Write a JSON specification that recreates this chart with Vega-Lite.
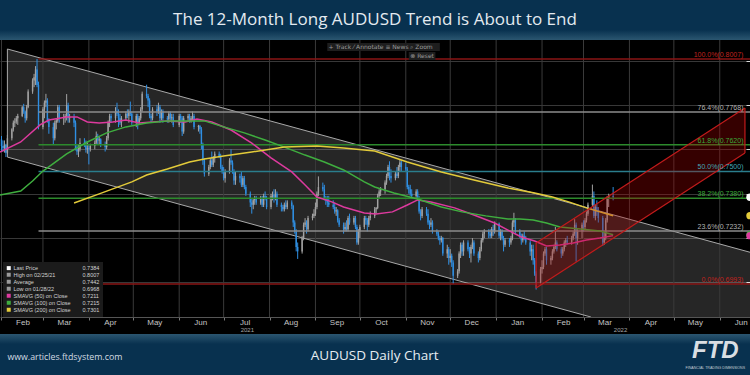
{
"$schema": "https://vega.github.io/schema/vega-lite/v6.json",
"width": 750, "height": 277,
"autosize": {"type": "none"},
"padding": {"left": 0, "right": 0, "top": 40, "bottom": 58},
"background": "#08314f",
"title": {"text": "The 12-Month Long AUDUSD Trend is About to End", "font": "Open Sans", "fontSize": 17, "fontWeight": 400, "color": "#e3eaf0", "anchor": "middle", "frame": "group", "offset": 1},
"config": {"view": {"fill": "#000000", "stroke": null}, "font": "Liberation Sans"},
"datasets": {
"ohlc": [
{"d":"2021-02-01","o":0.7645,"h":0.7660,"l":0.7590,"c":0.7615},
{"d":"2021-02-02","o":0.7615,"h":0.7640,"l":0.7590,"c":0.7605},
{"d":"2021-02-03","o":0.7605,"h":0.7640,"l":0.7585,"c":0.7620},
{"d":"2021-02-04","o":0.7620,"h":0.7625,"l":0.7565,"c":0.7585},
{"d":"2021-02-05","o":0.7585,"h":0.7665,"l":0.7580,"c":0.7650},
{"d":"2021-02-08","o":0.7650,"h":0.7695,"l":0.7640,"c":0.7690},
{"d":"2021-02-09","o":0.7690,"h":0.7730,"l":0.7680,"c":0.7720},
{"d":"2021-02-10","o":0.7720,"h":0.7740,"l":0.7700,"c":0.7725},
{"d":"2021-02-11","o":0.7725,"h":0.7750,"l":0.7715,"c":0.7740},
{"d":"2021-02-12","o":0.7740,"h":0.7760,"l":0.7710,"c":0.7750},
{"d":"2021-02-15","o":0.7750,"h":0.7795,"l":0.7745,"c":0.7790},
{"d":"2021-02-16","o":0.7790,"h":0.7805,"l":0.7760,"c":0.7770},
{"d":"2021-02-17","o":0.7770,"h":0.7775,"l":0.7720,"c":0.7740},
{"d":"2021-02-18","o":0.7740,"h":0.7800,"l":0.7730,"c":0.7790},
{"d":"2021-02-19","o":0.7790,"h":0.7870,"l":0.7785,"c":0.7860},
{"d":"2021-02-22","o":0.7860,"h":0.7920,"l":0.7850,"c":0.7910},
{"d":"2021-02-23","o":0.7910,"h":0.7940,"l":0.7880,"c":0.7925},
{"d":"2021-02-24","o":0.7925,"h":0.7975,"l":0.7890,"c":0.7960},
{"d":"2021-02-25","o":0.7960,"h":0.8007,"l":0.7880,"c":0.7890},
{"d":"2021-02-26","o":0.7890,"h":0.7905,"l":0.7690,"c":0.7700},
{"d":"2021-03-01","o":0.7700,"h":0.7790,"l":0.7690,"c":0.7780},
{"d":"2021-03-02","o":0.7780,"h":0.7820,"l":0.7740,"c":0.7810},
{"d":"2021-03-03","o":0.7810,"h":0.7850,"l":0.7790,"c":0.7820},
{"d":"2021-03-04","o":0.7820,"h":0.7830,"l":0.7720,"c":0.7730},
{"d":"2021-03-05","o":0.7730,"h":0.7740,"l":0.7670,"c":0.7700},
{"d":"2021-03-08","o":0.7700,"h":0.7720,"l":0.7620,"c":0.7650},
{"d":"2021-03-09","o":0.7650,"h":0.7730,"l":0.7640,"c":0.7720},
{"d":"2021-03-10","o":0.7720,"h":0.7740,"l":0.7690,"c":0.7730},
{"d":"2021-03-11","o":0.7730,"h":0.7800,"l":0.7720,"c":0.7790},
{"d":"2021-03-12","o":0.7790,"h":0.7800,"l":0.7720,"c":0.7740},
{"d":"2021-03-15","o":0.7740,"h":0.7760,"l":0.7710,"c":0.7745},
{"d":"2021-03-16","o":0.7745,"h":0.7760,"l":0.7720,"c":0.7750},
{"d":"2021-03-17","o":0.7750,"h":0.7849,"l":0.7730,"c":0.7800},
{"d":"2021-03-18","o":0.7800,"h":0.7810,"l":0.7720,"c":0.7740},
{"d":"2021-03-19","o":0.7740,"h":0.7760,"l":0.7720,"c":0.7745},
{"d":"2021-03-22","o":0.7745,"h":0.7760,"l":0.7700,"c":0.7720},
{"d":"2021-03-23","o":0.7720,"h":0.7730,"l":0.7595,"c":0.7600},
{"d":"2021-03-24","o":0.7600,"h":0.7620,"l":0.7575,"c":0.7590},
{"d":"2021-03-25","o":0.7590,"h":0.7620,"l":0.7565,"c":0.7600},
{"d":"2021-03-26","o":0.7600,"h":0.7650,"l":0.7590,"c":0.7630},
{"d":"2021-03-29","o":0.7630,"h":0.7650,"l":0.7610,"c":0.7625},
{"d":"2021-03-30","o":0.7625,"h":0.7640,"l":0.7585,"c":0.7600},
{"d":"2021-03-31","o":0.7600,"h":0.7630,"l":0.7580,"c":0.7605},
{"d":"2021-04-01","o":0.7605,"h":0.7620,"l":0.7532,"c":0.7600},
{"d":"2021-04-02","o":0.7600,"h":0.7625,"l":0.7590,"c":0.7615},
{"d":"2021-04-05","o":0.7615,"h":0.7640,"l":0.7600,"c":0.7630},
{"d":"2021-04-06","o":0.7630,"h":0.7680,"l":0.7620,"c":0.7660},
{"d":"2021-04-07","o":0.7660,"h":0.7670,"l":0.7620,"c":0.7640},
{"d":"2021-04-08","o":0.7640,"h":0.7660,"l":0.7620,"c":0.7645},
{"d":"2021-04-09","o":0.7645,"h":0.7650,"l":0.7610,"c":0.7620},
{"d":"2021-04-12","o":0.7620,"h":0.7635,"l":0.7590,"c":0.7610},
{"d":"2021-04-13","o":0.7610,"h":0.7660,"l":0.7600,"c":0.7650},
{"d":"2021-04-14","o":0.7650,"h":0.7730,"l":0.7640,"c":0.7720},
{"d":"2021-04-15","o":0.7720,"h":0.7760,"l":0.7700,"c":0.7750},
{"d":"2021-04-16","o":0.7750,"h":0.7760,"l":0.7720,"c":0.7740},
{"d":"2021-04-19","o":0.7740,"h":0.7790,"l":0.7720,"c":0.7770},
{"d":"2021-04-20","o":0.7770,"h":0.7810,"l":0.7750,"c":0.7760},
{"d":"2021-04-21","o":0.7760,"h":0.7780,"l":0.7700,"c":0.7740},
{"d":"2021-04-22","o":0.7740,"h":0.7760,"l":0.7710,"c":0.7720},
{"d":"2021-04-23","o":0.7720,"h":0.7750,"l":0.7700,"c":0.7740},
{"d":"2021-04-26","o":0.7740,"h":0.7770,"l":0.7730,"c":0.7760},
{"d":"2021-04-27","o":0.7760,"h":0.7780,"l":0.7740,"c":0.7750},
{"d":"2021-04-28","o":0.7750,"h":0.7780,"l":0.7720,"c":0.7770},
{"d":"2021-04-29","o":0.7770,"h":0.7815,"l":0.7750,"c":0.7760},
{"d":"2021-04-30","o":0.7760,"h":0.7770,"l":0.7710,"c":0.7720},
{"d":"2021-05-03","o":0.7720,"h":0.7760,"l":0.7700,"c":0.7750},
{"d":"2021-05-04","o":0.7750,"h":0.7760,"l":0.7690,"c":0.7720},
{"d":"2021-05-05","o":0.7720,"h":0.7750,"l":0.7710,"c":0.7740},
{"d":"2021-05-06","o":0.7740,"h":0.7790,"l":0.7730,"c":0.7780},
{"d":"2021-05-07","o":0.7780,"h":0.7860,"l":0.7770,"c":0.7850},
{"d":"2021-05-10","o":0.7850,"h":0.7891,"l":0.7830,"c":0.7840},
{"d":"2021-05-11","o":0.7840,"h":0.7850,"l":0.7790,"c":0.7820},
{"d":"2021-05-12","o":0.7820,"h":0.7830,"l":0.7740,"c":0.7750},
{"d":"2021-05-13","o":0.7750,"h":0.7760,"l":0.7720,"c":0.7740},
{"d":"2021-05-14","o":0.7740,"h":0.7790,"l":0.7730,"c":0.7780},
{"d":"2021-05-17","o":0.7780,"h":0.7800,"l":0.7750,"c":0.7770},
{"d":"2021-05-18","o":0.7770,"h":0.7810,"l":0.7760,"c":0.7790},
{"d":"2021-05-19","o":0.7790,"h":0.7800,"l":0.7720,"c":0.7740},
{"d":"2021-05-20","o":0.7740,"h":0.7780,"l":0.7730,"c":0.7770},
{"d":"2021-05-21","o":0.7770,"h":0.7780,"l":0.7720,"c":0.7740},
{"d":"2021-05-24","o":0.7740,"h":0.7750,"l":0.7720,"c":0.7735},
{"d":"2021-05-25","o":0.7735,"h":0.7770,"l":0.7720,"c":0.7760},
{"d":"2021-05-26","o":0.7760,"h":0.7770,"l":0.7730,"c":0.7740},
{"d":"2021-05-27","o":0.7740,"h":0.7760,"l":0.7720,"c":0.7745},
{"d":"2021-05-28","o":0.7745,"h":0.7760,"l":0.7700,"c":0.7710},
{"d":"2021-06-01","o":0.7710,"h":0.7760,"l":0.7700,"c":0.7750},
{"d":"2021-06-02","o":0.7750,"h":0.7760,"l":0.7720,"c":0.7740},
{"d":"2021-06-03","o":0.7740,"h":0.7750,"l":0.7660,"c":0.7680},
{"d":"2021-06-04","o":0.7680,"h":0.7750,"l":0.7670,"c":0.7740},
{"d":"2021-06-07","o":0.7740,"h":0.7760,"l":0.7730,"c":0.7750},
{"d":"2021-06-08","o":0.7750,"h":0.7760,"l":0.7720,"c":0.7730},
{"d":"2021-06-09","o":0.7730,"h":0.7750,"l":0.7720,"c":0.7740},
{"d":"2021-06-10","o":0.7740,"h":0.7770,"l":0.7730,"c":0.7750},
{"d":"2021-06-11","o":0.7750,"h":0.7760,"l":0.7690,"c":0.7700},
{"d":"2021-06-14","o":0.7700,"h":0.7710,"l":0.7680,"c":0.7705},
{"d":"2021-06-15","o":0.7705,"h":0.7710,"l":0.7670,"c":0.7690},
{"d":"2021-06-16","o":0.7690,"h":0.7700,"l":0.7600,"c":0.7620},
{"d":"2021-06-17","o":0.7620,"h":0.7630,"l":0.7530,"c":0.7550},
{"d":"2021-06-18","o":0.7550,"h":0.7560,"l":0.7477,"c":0.7490},
{"d":"2021-06-21","o":0.7490,"h":0.7530,"l":0.7480,"c":0.7520},
{"d":"2021-06-22","o":0.7520,"h":0.7560,"l":0.7510,"c":0.7550},
{"d":"2021-06-23","o":0.7550,"h":0.7590,"l":0.7520,"c":0.7530},
{"d":"2021-06-24","o":0.7530,"h":0.7570,"l":0.7520,"c":0.7560},
{"d":"2021-06-25","o":0.7560,"h":0.7590,"l":0.7540,"c":0.7580},
{"d":"2021-06-28","o":0.7580,"h":0.7590,"l":0.7560,"c":0.7570},
{"d":"2021-06-29","o":0.7570,"h":0.7580,"l":0.7510,"c":0.7520},
{"d":"2021-06-30","o":0.7520,"h":0.7530,"l":0.7490,"c":0.7500},
{"d":"2021-07-01","o":0.7500,"h":0.7520,"l":0.7460,"c":0.7470},
{"d":"2021-07-02","o":0.7470,"h":0.7510,"l":0.7450,"c":0.7500},
{"d":"2021-07-05","o":0.7500,"h":0.7560,"l":0.7490,"c":0.7550},
{"d":"2021-07-06","o":0.7550,"h":0.7600,"l":0.7530,"c":0.7540},
{"d":"2021-07-07","o":0.7540,"h":0.7550,"l":0.7490,"c":0.7500},
{"d":"2021-07-08","o":0.7500,"h":0.7510,"l":0.7440,"c":0.7460},
{"d":"2021-07-09","o":0.7460,"h":0.7500,"l":0.7440,"c":0.7480},
{"d":"2021-07-12","o":0.7480,"h":0.7490,"l":0.7450,"c":0.7470},
{"d":"2021-07-13","o":0.7470,"h":0.7500,"l":0.7430,"c":0.7440},
{"d":"2021-07-14","o":0.7440,"h":0.7480,"l":0.7430,"c":0.7470},
{"d":"2021-07-15","o":0.7470,"h":0.7480,"l":0.7420,"c":0.7430},
{"d":"2021-07-16","o":0.7430,"h":0.7440,"l":0.7390,"c":0.7400},
{"d":"2021-07-19","o":0.7400,"h":0.7410,"l":0.7340,"c":0.7360},
{"d":"2021-07-20","o":0.7360,"h":0.7380,"l":0.7310,"c":0.7350},
{"d":"2021-07-21","o":0.7350,"h":0.7380,"l":0.7330,"c":0.7370},
{"d":"2021-07-22","o":0.7370,"h":0.7390,"l":0.7350,"c":0.7380},
{"d":"2021-07-23","o":0.7380,"h":0.7390,"l":0.7350,"c":0.7360},
{"d":"2021-07-26","o":0.7360,"h":0.7390,"l":0.7350,"c":0.7380},
{"d":"2021-07-27","o":0.7380,"h":0.7390,"l":0.7340,"c":0.7350},
{"d":"2021-07-28","o":0.7350,"h":0.7400,"l":0.7340,"c":0.7390},
{"d":"2021-07-29","o":0.7390,"h":0.7410,"l":0.7370,"c":0.7380},
{"d":"2021-07-30","o":0.7380,"h":0.7390,"l":0.7330,"c":0.7340},
{"d":"2021-08-02","o":0.7340,"h":0.7400,"l":0.7330,"c":0.7390},
{"d":"2021-08-03","o":0.7390,"h":0.7410,"l":0.7370,"c":0.7395},
{"d":"2021-08-04","o":0.7395,"h":0.7420,"l":0.7360,"c":0.7380},
{"d":"2021-08-05","o":0.7380,"h":0.7420,"l":0.7370,"c":0.7400},
{"d":"2021-08-06","o":0.7400,"h":0.7410,"l":0.7340,"c":0.7350},
{"d":"2021-08-09","o":0.7350,"h":0.7360,"l":0.7320,"c":0.7340},
{"d":"2021-08-10","o":0.7340,"h":0.7350,"l":0.7320,"c":0.7330},
{"d":"2021-08-11","o":0.7330,"h":0.7360,"l":0.7320,"c":0.7350},
{"d":"2021-08-12","o":0.7350,"h":0.7370,"l":0.7330,"c":0.7340},
{"d":"2021-08-13","o":0.7340,"h":0.7370,"l":0.7330,"c":0.7360},
{"d":"2021-08-16","o":0.7360,"h":0.7370,"l":0.7330,"c":0.7345},
{"d":"2021-08-17","o":0.7345,"h":0.7350,"l":0.7250,"c":0.7270},
{"d":"2021-08-18","o":0.7270,"h":0.7280,"l":0.7220,"c":0.7230},
{"d":"2021-08-19","o":0.7230,"h":0.7240,"l":0.7140,"c":0.7160},
{"d":"2021-08-20","o":0.7160,"h":0.7180,"l":0.7106,"c":0.7140},
{"d":"2021-08-23","o":0.7140,"h":0.7210,"l":0.7130,"c":0.7200},
{"d":"2021-08-24","o":0.7200,"h":0.7270,"l":0.7190,"c":0.7260},
{"d":"2021-08-25","o":0.7260,"h":0.7290,"l":0.7250,"c":0.7270},
{"d":"2021-08-26","o":0.7270,"h":0.7280,"l":0.7220,"c":0.7240},
{"d":"2021-08-27","o":0.7240,"h":0.7300,"l":0.7230,"c":0.7290},
{"d":"2021-08-30","o":0.7290,"h":0.7310,"l":0.7280,"c":0.7300},
{"d":"2021-08-31","o":0.7300,"h":0.7330,"l":0.7290,"c":0.7310},
{"d":"2021-09-01","o":0.7310,"h":0.7360,"l":0.7300,"c":0.7340},
{"d":"2021-09-02","o":0.7340,"h":0.7410,"l":0.7330,"c":0.7400},
{"d":"2021-09-03","o":0.7400,"h":0.7478,"l":0.7390,"c":0.7430},
{"d":"2021-09-06","o":0.7430,"h":0.7450,"l":0.7410,"c":0.7420},
{"d":"2021-09-07","o":0.7420,"h":0.7440,"l":0.7370,"c":0.7380},
{"d":"2021-09-08","o":0.7380,"h":0.7390,"l":0.7350,"c":0.7370},
{"d":"2021-09-09","o":0.7370,"h":0.7390,"l":0.7340,"c":0.7360},
{"d":"2021-09-10","o":0.7360,"h":0.7390,"l":0.7340,"c":0.7350},
{"d":"2021-09-13","o":0.7350,"h":0.7370,"l":0.7330,"c":0.7340},
{"d":"2021-09-14","o":0.7340,"h":0.7360,"l":0.7310,"c":0.7320},
{"d":"2021-09-15","o":0.7320,"h":0.7340,"l":0.7300,"c":0.7325},
{"d":"2021-09-16","o":0.7325,"h":0.7330,"l":0.7270,"c":0.7280},
{"d":"2021-09-17","o":0.7280,"h":0.7290,"l":0.7250,"c":0.7260},
{"d":"2021-09-20","o":0.7260,"h":0.7270,"l":0.7220,"c":0.7240},
{"d":"2021-09-21","o":0.7240,"h":0.7270,"l":0.7230,"c":0.7250},
{"d":"2021-09-22","o":0.7250,"h":0.7280,"l":0.7230,"c":0.7240},
{"d":"2021-09-23","o":0.7240,"h":0.7300,"l":0.7230,"c":0.7290},
{"d":"2021-09-24","o":0.7290,"h":0.7310,"l":0.7260,"c":0.7270},
{"d":"2021-09-27","o":0.7270,"h":0.7300,"l":0.7260,"c":0.7290},
{"d":"2021-09-28","o":0.7290,"h":0.7300,"l":0.7240,"c":0.7250},
{"d":"2021-09-29","o":0.7250,"h":0.7260,"l":0.7170,"c":0.7180},
{"d":"2021-09-30","o":0.7180,"h":0.7240,"l":0.7170,"c":0.7230},
{"d":"2021-10-01","o":0.7230,"h":0.7260,"l":0.7200,"c":0.7250},
{"d":"2021-10-04","o":0.7250,"h":0.7300,"l":0.7240,"c":0.7290},
{"d":"2021-10-05","o":0.7290,"h":0.7300,"l":0.7260,"c":0.7280},
{"d":"2021-10-06","o":0.7280,"h":0.7290,"l":0.7230,"c":0.7260},
{"d":"2021-10-07","o":0.7260,"h":0.7300,"l":0.7250,"c":0.7290},
{"d":"2021-10-08","o":0.7290,"h":0.7320,"l":0.7280,"c":0.7300},
{"d":"2021-10-11","o":0.7300,"h":0.7340,"l":0.7290,"c":0.7330},
{"d":"2021-10-12","o":0.7330,"h":0.7340,"l":0.7310,"c":0.7335},
{"d":"2021-10-13","o":0.7335,"h":0.7400,"l":0.7330,"c":0.7390},
{"d":"2021-10-14","o":0.7390,"h":0.7420,"l":0.7380,"c":0.7410},
{"d":"2021-10-15","o":0.7410,"h":0.7430,"l":0.7390,"c":0.7420},
{"d":"2021-10-18","o":0.7420,"h":0.7460,"l":0.7400,"c":0.7450},
{"d":"2021-10-19","o":0.7450,"h":0.7490,"l":0.7440,"c":0.7480},
{"d":"2021-10-20","o":0.7480,"h":0.7530,"l":0.7470,"c":0.7520},
{"d":"2021-10-21","o":0.7520,"h":0.7546,"l":0.7460,"c":0.7480},
{"d":"2021-10-22","o":0.7480,"h":0.7510,"l":0.7450,"c":0.7470},
{"d":"2021-10-25","o":0.7470,"h":0.7500,"l":0.7460,"c":0.7490},
{"d":"2021-10-26","o":0.7490,"h":0.7520,"l":0.7470,"c":0.7480},
{"d":"2021-10-27","o":0.7480,"h":0.7530,"l":0.7470,"c":0.7520},
{"d":"2021-10-28","o":0.7520,"h":0.7556,"l":0.7500,"c":0.7540},
{"d":"2021-10-29","o":0.7540,"h":0.7550,"l":0.7500,"c":0.7520},
{"d":"2021-11-01","o":0.7520,"h":0.7540,"l":0.7500,"c":0.7510},
{"d":"2021-11-02","o":0.7510,"h":0.7520,"l":0.7420,"c":0.7430},
{"d":"2021-11-03","o":0.7430,"h":0.7440,"l":0.7400,"c":0.7420},
{"d":"2021-11-04","o":0.7420,"h":0.7440,"l":0.7390,"c":0.7400},
{"d":"2021-11-05","o":0.7400,"h":0.7420,"l":0.7380,"c":0.7390},
{"d":"2021-11-08","o":0.7390,"h":0.7420,"l":0.7380,"c":0.7410},
{"d":"2021-11-09","o":0.7410,"h":0.7420,"l":0.7370,"c":0.7380},
{"d":"2021-11-10","o":0.7380,"h":0.7390,"l":0.7310,"c":0.7320},
{"d":"2021-11-11","o":0.7320,"h":0.7330,"l":0.7280,"c":0.7300},
{"d":"2021-11-12","o":0.7300,"h":0.7340,"l":0.7290,"c":0.7330},
{"d":"2021-11-15","o":0.7330,"h":0.7340,"l":0.7300,"c":0.7310},
{"d":"2021-11-16","o":0.7310,"h":0.7330,"l":0.7260,"c":0.7270},
{"d":"2021-11-17","o":0.7270,"h":0.7280,"l":0.7240,"c":0.7260},
{"d":"2021-11-18","o":0.7260,"h":0.7290,"l":0.7250,"c":0.7270},
{"d":"2021-11-19","o":0.7270,"h":0.7280,"l":0.7220,"c":0.7230},
{"d":"2021-11-22","o":0.7230,"h":0.7240,"l":0.7210,"c":0.7220},
{"d":"2021-11-23","o":0.7220,"h":0.7230,"l":0.7190,"c":0.7200},
{"d":"2021-11-24","o":0.7200,"h":0.7210,"l":0.7170,"c":0.7190},
{"d":"2021-11-25","o":0.7190,"h":0.7210,"l":0.7180,"c":0.7200},
{"d":"2021-11-26","o":0.7200,"h":0.7205,"l":0.7120,"c":0.7130},
{"d":"2021-11-29","o":0.7130,"h":0.7170,"l":0.7110,"c":0.7150},
{"d":"2021-11-30","o":0.7150,"h":0.7160,"l":0.7080,"c":0.7110},
{"d":"2021-12-01","o":0.7110,"h":0.7150,"l":0.7090,"c":0.7120},
{"d":"2021-12-02","o":0.7120,"h":0.7130,"l":0.7070,"c":0.7090},
{"d":"2021-12-03","o":0.7090,"h":0.7100,"l":0.6993,"c":0.7030},
{"d":"2021-12-06","o":0.7030,"h":0.7060,"l":0.7020,"c":0.7050},
{"d":"2021-12-07","o":0.7050,"h":0.7140,"l":0.7040,"c":0.7130},
{"d":"2021-12-08","o":0.7130,"h":0.7180,"l":0.7110,"c":0.7170},
{"d":"2021-12-09","o":0.7170,"h":0.7180,"l":0.7120,"c":0.7140},
{"d":"2021-12-10","o":0.7140,"h":0.7190,"l":0.7120,"c":0.7180},
{"d":"2021-12-13","o":0.7180,"h":0.7190,"l":0.7140,"c":0.7150},
{"d":"2021-12-14","o":0.7150,"h":0.7160,"l":0.7110,"c":0.7130},
{"d":"2021-12-15","o":0.7130,"h":0.7170,"l":0.7090,"c":0.7160},
{"d":"2021-12-16","o":0.7160,"h":0.7200,"l":0.7150,"c":0.7180},
{"d":"2021-12-17","o":0.7180,"h":0.7190,"l":0.7120,"c":0.7130},
{"d":"2021-12-20","o":0.7130,"h":0.7140,"l":0.7090,"c":0.7110},
{"d":"2021-12-21","o":0.7110,"h":0.7160,"l":0.7100,"c":0.7150},
{"d":"2021-12-22","o":0.7150,"h":0.7200,"l":0.7140,"c":0.7190},
{"d":"2021-12-23","o":0.7190,"h":0.7230,"l":0.7180,"c":0.7220},
{"d":"2021-12-24","o":0.7220,"h":0.7240,"l":0.7200,"c":0.7230},
{"d":"2021-12-27","o":0.7230,"h":0.7240,"l":0.7200,"c":0.7220},
{"d":"2021-12-28","o":0.7220,"h":0.7240,"l":0.7200,"c":0.7210},
{"d":"2021-12-29","o":0.7210,"h":0.7250,"l":0.7200,"c":0.7240},
{"d":"2021-12-30","o":0.7240,"h":0.7260,"l":0.7210,"c":0.7230},
{"d":"2021-12-31","o":0.7230,"h":0.7275,"l":0.7220,"c":0.7265},
{"d":"2022-01-03","o":0.7265,"h":0.7270,"l":0.7200,"c":0.7210},
{"d":"2022-01-04","o":0.7210,"h":0.7240,"l":0.7190,"c":0.7230},
{"d":"2022-01-05","o":0.7230,"h":0.7240,"l":0.7190,"c":0.7200},
{"d":"2022-01-06","o":0.7200,"h":0.7210,"l":0.7140,"c":0.7170},
{"d":"2022-01-07","o":0.7170,"h":0.7200,"l":0.7160,"c":0.7190},
{"d":"2022-01-10","o":0.7190,"h":0.7200,"l":0.7160,"c":0.7180},
{"d":"2022-01-11","o":0.7180,"h":0.7210,"l":0.7170,"c":0.7200},
{"d":"2022-01-12","o":0.7200,"h":0.7280,"l":0.7190,"c":0.7270},
{"d":"2022-01-13","o":0.7270,"h":0.7314,"l":0.7250,"c":0.7280},
{"d":"2022-01-14","o":0.7280,"h":0.7290,"l":0.7220,"c":0.7230},
{"d":"2022-01-17","o":0.7230,"h":0.7240,"l":0.7200,"c":0.7210},
{"d":"2022-01-18","o":0.7210,"h":0.7220,"l":0.7170,"c":0.7190},
{"d":"2022-01-19","o":0.7190,"h":0.7220,"l":0.7180,"c":0.7210},
{"d":"2022-01-20","o":0.7210,"h":0.7230,"l":0.7190,"c":0.7200},
{"d":"2022-01-21","o":0.7200,"h":0.7210,"l":0.7170,"c":0.7180},
{"d":"2022-01-24","o":0.7180,"h":0.7190,"l":0.7120,"c":0.7140},
{"d":"2022-01-25","o":0.7140,"h":0.7170,"l":0.7100,"c":0.7150},
{"d":"2022-01-26","o":0.7150,"h":0.7170,"l":0.7080,"c":0.7100},
{"d":"2022-01-27","o":0.7100,"h":0.7110,"l":0.7030,"c":0.7040},
{"d":"2022-01-28","o":0.7040,"h":0.7050,"l":0.6968,"c":0.7000},
{"d":"2022-01-31","o":0.7000,"h":0.7070,"l":0.6990,"c":0.7060},
{"d":"2022-02-01","o":0.7060,"h":0.7100,"l":0.7040,"c":0.7070},
{"d":"2022-02-02","o":0.7070,"h":0.7140,"l":0.7060,"c":0.7130},
{"d":"2022-02-03","o":0.7130,"h":0.7160,"l":0.7120,"c":0.7150},
{"d":"2022-02-04","o":0.7150,"h":0.7160,"l":0.7080,"c":0.7100},
{"d":"2022-02-07","o":0.7100,"h":0.7120,"l":0.7080,"c":0.7110},
{"d":"2022-02-08","o":0.7110,"h":0.7150,"l":0.7100,"c":0.7140},
{"d":"2022-02-09","o":0.7140,"h":0.7170,"l":0.7130,"c":0.7160},
{"d":"2022-02-10","o":0.7160,"h":0.7250,"l":0.7150,"c":0.7180},
{"d":"2022-02-11","o":0.7180,"h":0.7190,"l":0.7140,"c":0.7150},
{"d":"2022-02-14","o":0.7150,"h":0.7160,"l":0.7110,"c":0.7130},
{"d":"2022-02-15","o":0.7130,"h":0.7160,"l":0.7120,"c":0.7150},
{"d":"2022-02-16","o":0.7150,"h":0.7190,"l":0.7140,"c":0.7180},
{"d":"2022-02-17","o":0.7180,"h":0.7200,"l":0.7160,"c":0.7190},
{"d":"2022-02-18","o":0.7190,"h":0.7210,"l":0.7170,"c":0.7180},
{"d":"2022-02-21","o":0.7180,"h":0.7210,"l":0.7170,"c":0.7200},
{"d":"2022-02-22","o":0.7200,"h":0.7230,"l":0.7190,"c":0.7220},
{"d":"2022-02-23","o":0.7220,"h":0.7285,"l":0.7210,"c":0.7260},
{"d":"2022-02-24","o":0.7260,"h":0.7270,"l":0.7094,"c":0.7200},
{"d":"2022-02-25","o":0.7200,"h":0.7240,"l":0.7170,"c":0.7230},
{"d":"2022-02-28","o":0.7230,"h":0.7270,"l":0.7200,"c":0.7260},
{"d":"2022-03-01","o":0.7260,"h":0.7280,"l":0.7230,"c":0.7250},
{"d":"2022-03-02","o":0.7250,"h":0.7290,"l":0.7240,"c":0.7280},
{"d":"2022-03-03","o":0.7280,"h":0.7320,"l":0.7270,"c":0.7310},
{"d":"2022-03-04","o":0.7310,"h":0.7360,"l":0.7300,"c":0.7350},
{"d":"2022-03-07","o":0.7350,"h":0.7441,"l":0.7340,"c":0.7390},
{"d":"2022-03-08","o":0.7390,"h":0.7410,"l":0.7290,"c":0.7300},
{"d":"2022-03-09","o":0.7300,"h":0.7350,"l":0.7280,"c":0.7340},
{"d":"2022-03-10","o":0.7340,"h":0.7370,"l":0.7300,"c":0.7320},
{"d":"2022-03-11","o":0.7320,"h":0.7340,"l":0.7270,"c":0.7290},
{"d":"2022-03-14","o":0.7290,"h":0.7300,"l":0.7165,"c":0.7180},
{"d":"2022-03-15","o":0.7180,"h":0.7230,"l":0.7170,"c":0.7200},
{"d":"2022-03-16","o":0.7200,"h":0.7290,"l":0.7190,"c":0.7280},
{"d":"2022-03-17","o":0.7280,"h":0.7390,"l":0.7270,"c":0.7380},
{"d":"2022-03-18","o":0.7380,"h":0.7400,"l":0.7340,"c":0.7390},
{"d":"2022-03-21","o":0.7390,"h":0.7430,"l":0.7370,"c":0.7384}
],
"sma": [
{"s":"SMAVG (50)  on Close","d":"2021-01-31","p":0.7588},
{"s":"SMAVG (50)  on Close","d":"2021-02-14","p":0.7633},
{"s":"SMAVG (50)  on Close","d":"2021-02-27","p":0.7710},
{"s":"SMAVG (50)  on Close","d":"2021-03-05","p":0.7732},
{"s":"SMAVG (50)  on Close","d":"2021-03-17","p":0.7746},
{"s":"SMAVG (50)  on Close","d":"2021-03-24","p":0.7746},
{"s":"SMAVG (50)  on Close","d":"2021-03-31","p":0.7723},
{"s":"SMAVG (50)  on Close","d":"2021-04-08","p":0.7719},
{"s":"SMAVG (50)  on Close","d":"2021-04-17","p":0.7723},
{"s":"SMAVG (50)  on Close","d":"2021-04-26","p":0.7732},
{"s":"SMAVG (50)  on Close","d":"2021-05-05","p":0.7719},
{"s":"SMAVG (50)  on Close","d":"2021-05-14","p":0.7723},
{"s":"SMAVG (50)  on Close","d":"2021-05-24","p":0.7728},
{"s":"SMAVG (50)  on Close","d":"2021-06-05","p":0.7723},
{"s":"SMAVG (50)  on Close","d":"2021-06-13","p":0.7737},
{"s":"SMAVG (50)  on Close","d":"2021-06-23","p":0.7723},
{"s":"SMAVG (50)  on Close","d":"2021-07-06","p":0.7687},
{"s":"SMAVG (50)  on Close","d":"2021-07-20","p":0.7628},
{"s":"SMAVG (50)  on Close","d":"2021-08-02","p":0.7561},
{"s":"SMAVG (50)  on Close","d":"2021-08-16","p":0.7498},
{"s":"SMAVG (50)  on Close","d":"2021-08-25","p":0.7439},
{"s":"SMAVG (50)  on Close","d":"2021-09-02","p":0.7385},
{"s":"SMAVG (50)  on Close","d":"2021-09-12","p":0.7363},
{"s":"SMAVG (50)  on Close","d":"2021-09-20","p":0.7340},
{"s":"SMAVG (50)  on Close","d":"2021-10-04","p":0.7313},
{"s":"SMAVG (50)  on Close","d":"2021-10-12","p":0.7309},
{"s":"SMAVG (50)  on Close","d":"2021-10-23","p":0.7318},
{"s":"SMAVG (50)  on Close","d":"2021-11-02","p":0.7349},
{"s":"SMAVG (50)  on Close","d":"2021-11-09","p":0.7372},
{"s":"SMAVG (50)  on Close","d":"2021-11-18","p":0.7363},
{"s":"SMAVG (50)  on Close","d":"2021-12-04","p":0.7336},
{"s":"SMAVG (50)  on Close","d":"2021-12-17","p":0.7304},
{"s":"SMAVG (50)  on Close","d":"2021-12-31","p":0.7268},
{"s":"SMAVG (50)  on Close","d":"2022-01-09","p":0.7236},
{"s":"SMAVG (50)  on Close","d":"2022-01-18","p":0.7205},
{"s":"SMAVG (50)  on Close","d":"2022-01-27","p":0.7187},
{"s":"SMAVG (50)  on Close","d":"2022-02-04","p":0.7164},
{"s":"SMAVG (50)  on Close","d":"2022-02-13","p":0.7169},
{"s":"SMAVG (50)  on Close","d":"2022-02-22","p":0.7178},
{"s":"SMAVG (50)  on Close","d":"2022-03-03","p":0.7191},
{"s":"SMAVG (50)  on Close","d":"2022-03-12","p":0.7200},
{"s":"SMAVG (50)  on Close","d":"2022-03-21","p":0.7211},
{"s":"SMAVG (100)  on Close","d":"2021-01-31","p":0.7394},
{"s":"SMAVG (100)  on Close","d":"2021-02-14","p":0.7412},
{"s":"SMAVG (100)  on Close","d":"2021-02-22","p":0.7457},
{"s":"SMAVG (100)  on Close","d":"2021-03-01","p":0.7502},
{"s":"SMAVG (100)  on Close","d":"2021-03-17","p":0.7579},
{"s":"SMAVG (100)  on Close","d":"2021-03-31","p":0.7633},
{"s":"SMAVG (100)  on Close","d":"2021-04-13","p":0.7674},
{"s":"SMAVG (100)  on Close","d":"2021-04-26","p":0.7701},
{"s":"SMAVG (100)  on Close","d":"2021-05-10","p":0.7719},
{"s":"SMAVG (100)  on Close","d":"2021-05-24","p":0.7728},
{"s":"SMAVG (100)  on Close","d":"2021-06-05","p":0.7728},
{"s":"SMAVG (100)  on Close","d":"2021-06-18","p":0.7728},
{"s":"SMAVG (100)  on Close","d":"2021-07-01","p":0.7701},
{"s":"SMAVG (100)  on Close","d":"2021-07-15","p":0.7674},
{"s":"SMAVG (100)  on Close","d":"2021-07-29","p":0.7642},
{"s":"SMAVG (100)  on Close","d":"2021-08-11","p":0.7610},
{"s":"SMAVG (100)  on Close","d":"2021-08-25","p":0.7574},
{"s":"SMAVG (100)  on Close","d":"2021-09-07","p":0.7543},
{"s":"SMAVG (100)  on Close","d":"2021-09-20","p":0.7507},
{"s":"SMAVG (100)  on Close","d":"2021-10-04","p":0.7453},
{"s":"SMAVG (100)  on Close","d":"2021-10-11","p":0.7430},
{"s":"SMAVG (100)  on Close","d":"2021-10-24","p":0.7403},
{"s":"SMAVG (100)  on Close","d":"2021-11-09","p":0.7376},
{"s":"SMAVG (100)  on Close","d":"2021-11-25","p":0.7340},
{"s":"SMAVG (100)  on Close","d":"2021-12-09","p":0.7318},
{"s":"SMAVG (100)  on Close","d":"2021-12-25","p":0.7300},
{"s":"SMAVG (100)  on Close","d":"2022-01-09","p":0.7286},
{"s":"SMAVG (100)  on Close","d":"2022-01-17","p":0.7286},
{"s":"SMAVG (100)  on Close","d":"2022-01-26","p":0.7281},
{"s":"SMAVG (100)  on Close","d":"2022-02-04","p":0.7268},
{"s":"SMAVG (100)  on Close","d":"2022-02-13","p":0.7250},
{"s":"SMAVG (100)  on Close","d":"2022-02-27","p":0.7241},
{"s":"SMAVG (100)  on Close","d":"2022-03-12","p":0.7232},
{"s":"SMAVG (100)  on Close","d":"2022-03-21","p":0.7215},
{"s":"SMAVG (200)  on Close","d":"2021-03-22","p":0.7358},
{"s":"SMAVG (200)  on Close","d":"2021-04-08","p":0.7399},
{"s":"SMAVG (200)  on Close","d":"2021-04-30","p":0.7453},
{"s":"SMAVG (200)  on Close","d":"2021-05-10","p":0.7484},
{"s":"SMAVG (200)  on Close","d":"2021-05-24","p":0.7511},
{"s":"SMAVG (200)  on Close","d":"2021-06-08","p":0.7543},
{"s":"SMAVG (200)  on Close","d":"2021-06-18","p":0.7556},
{"s":"SMAVG (200)  on Close","d":"2021-07-01","p":0.7570},
{"s":"SMAVG (200)  on Close","d":"2021-07-20","p":0.7588},
{"s":"SMAVG (200)  on Close","d":"2021-08-11","p":0.7610},
{"s":"SMAVG (200)  on Close","d":"2021-09-02","p":0.7615},
{"s":"SMAVG (200)  on Close","d":"2021-09-20","p":0.7606},
{"s":"SMAVG (200)  on Close","d":"2021-10-11","p":0.7592},
{"s":"SMAVG (200)  on Close","d":"2021-11-02","p":0.7543},
{"s":"SMAVG (200)  on Close","d":"2021-11-25","p":0.7498},
{"s":"SMAVG (200)  on Close","d":"2021-12-17","p":0.7462},
{"s":"SMAVG (200)  on Close","d":"2022-01-09","p":0.7426},
{"s":"SMAVG (200)  on Close","d":"2022-01-27","p":0.7403},
{"s":"SMAVG (200)  on Close","d":"2022-02-08","p":0.7385},
{"s":"SMAVG (200)  on Close","d":"2022-02-19","p":0.7363},
{"s":"SMAVG (200)  on Close","d":"2022-03-03","p":0.7336},
{"s":"SMAVG (200)  on Close","d":"2022-03-21","p":0.7301}
],
"fib": [
{"lvl":"100.0%","p":0.8007,"lab":"100.0%(0.8007)","d":"2021-02-26","d2":"2022-06-21T10:00:00Z","dl":"2022-06-17"},
{"lvl":"76.4%","p":0.7768,"lab":"76.4%(0.7768)","d":"2021-02-26","d2":"2022-06-21T10:00:00Z","dl":"2022-06-17"},
{"lvl":"61.8%","p":0.7620,"lab":"61.8%(0.7620)","d":"2021-02-26","d2":"2022-06-21T10:00:00Z","dl":"2022-06-17"},
{"lvl":"50.0%","p":0.7500,"lab":"50.0%(0.7500)","d":"2021-02-26","d2":"2022-06-21T10:00:00Z","dl":"2022-06-17"},
{"lvl":"38.2%","p":0.7380,"lab":"38.2%(0.7380)","d":"2021-02-26","d2":"2022-06-21T10:00:00Z","dl":"2022-06-17"},
{"lvl":"23.6%","p":0.7232,"lab":"23.6%(0.7232)","d":"2021-02-26","d2":"2022-06-21T10:00:00Z","dl":"2022-06-17"},
{"lvl":"0.0%","p":0.6993,"lab":"0.0%(0.6993)","d":"2021-02-26","d2":"2022-06-21T10:00:00Z","dl":"2022-06-17"}
],
"chan": [
{"d":"2021-02-05","p":0.8052,"p2":0.7565},
{"d":"2022-03-06","p":0.7332,"p2":0.68443},
{"d":"2022-06-21T10:00:00Z","p":0.7136,"p2":0.68443}
],
"chanEdges": [
{"d":"2021-02-05","p":0.8052,"d2":"2022-06-21T10:00:00Z","p2":0.7136},
{"d":"2021-02-05","p":0.7565,"d2":"2022-03-06","p2":0.68443},
{"d":"2021-02-05","p":0.7565,"d2":"2021-02-05","p2":0.8052}
],
"rchan": [
{"d":"2022-01-28","p":0.7178,"p2":0.6975},
{"d":"2022-06-18","p":0.7786,"p2":0.7583}
],
"rchanEdges": [
{"d":"2022-01-28","p":0.7178,"d2":"2022-06-18","p2":0.7786},
{"d":"2022-01-28","p":0.6975,"d2":"2022-06-18","p2":0.7583},
{"d":"2022-01-28","p":0.6975,"d2":"2022-01-28","p2":0.7178},
{"d":"2022-06-18","p":0.7583,"d2":"2022-06-18","p2":0.7786}
],
"months": [
{"d":"2021-02-01"},{"d":"2021-03-01"},{"d":"2021-04-01"},{"d":"2021-05-01"},{"d":"2021-06-01"},{"d":"2021-07-01"},{"d":"2021-08-01"},{"d":"2021-09-01"},{"d":"2021-10-01"},{"d":"2021-11-01"},{"d":"2021-12-01"},{"d":"2022-01-01"},{"d":"2022-02-01"},{"d":"2022-03-01"},{"d":"2022-04-01"},{"d":"2022-05-01"},{"d":"2022-06-01"}
],
"years": [
{"d":"2021-07-17","p":0.67857,"t":"2021"},
{"d":"2022-03-26","p":0.67857,"t":"2022"}
],
"last": [
{"s":"Last Price","d":"2022-06-21T10:00:00Z","p":0.7384},
{"s":"SMAVG (200)  on Close","d":"2022-06-21T10:00:00Z","p":0.7301},
{"s":"SMAVG (100)  on Close","d":"2022-06-21T10:00:00Z","p":0.7215},
{"s":"SMAVG (50)  on Close","d":"2022-06-21T10:00:00Z","p":0.7211}
]
},
"layer": [
{"data": {"values": [{"d":"2021-01-31","d2":"2022-06-21T10:00:00Z","p":0.68443,"p2":0.67677}]}, "mark": {"type": "rect", "color": "#000000"},
 "encoding": {
  "x": {"field": "d", "type": "temporal",
   "scale": {"type": "utc", "nice": false, "padding": 0, "domain": [{"year":2021,"month":1,"date":31,"utc":true},{"year":2022,"month":6,"date":21,"hours":10,"utc":true}]},
   "axis": {"title": null, "orient": "bottom", "format": "%b", "tickCount": {"interval": "month", "step": 1}, "grid": false, "zindex": 1, "labelOffset": 21, "labelFlush": false, "labelOverlap": false, "labelBound": false, "labelFontSize": 8, "labelColor": "#c4c4c4", "labelPadding": -2, "tickSize": 3, "tickColor": "#777777", "domainColor": "#555555"}},
  "x2": {"field": "d2"},
  "y": {"field": "p", "type": "quantitative",
   "scale": {"domain": [0.68443, 0.80926], "nice": false, "zero": false, "padding": 0},
   "axis": {"title": null, "orient": "right", "offset": -4, "values": [0.70, 0.72, 0.74, 0.76, 0.78, 0.80], "labels": false, "domain": false, "ticks": true, "tickSize": 4, "tickColor": "#dddddd", "grid": true, "gridColor": "#383838"}},
  "y2": {"field": "p2"}}},
{"data": {"values": [{"d":"2021-01-31","d2":"2022-06-21T10:00:00Z","p":0.81377,"p2":0.80926}]},
 "mark": {"type": "rect", "color": {"gradient": "linear", "x1": 0, "y1": 0, "x2": 0, "y2": 1, "stops": [{"offset": 0, "color": "#08314f"}, {"offset": 1, "color": "#2b5670"}]}},
 "encoding": {"x": {"field": "d", "type": "temporal"}, "x2": {"field": "d2"}, "y": {"field": "p", "type": "quantitative"}, "y2": {"field": "p2"}}},
{"data": {"values": [{"d":"2021-01-31","d2":"2022-06-21T10:00:00Z","p":0.67677,"p2":0.67226}]},
 "mark": {"type": "rect", "color": {"gradient": "linear", "x1": 0, "y1": 0, "x2": 0, "y2": 1, "stops": [{"offset": 0, "color": "#2b5670"}, {"offset": 1, "color": "#08314f"}]}},
 "encoding": {"x": {"field": "d", "type": "temporal"}, "x2": {"field": "d2"}, "y": {"field": "p", "type": "quantitative"}, "y2": {"field": "p2"}}},
{"data": {"name": "chan"}, "mark": {"type": "area", "color": "#ffffff", "opacity": 0.15},
 "encoding": {"x": {"field": "d", "type": "temporal"}, "y": {"field": "p", "type": "quantitative"}, "y2": {"field": "p2"}}},
{"data": {"name": "months"}, "mark": {"type": "rule", "color": "#3a3a3a", "strokeWidth": 1},
 "encoding": {"x": {"field": "d", "type": "temporal"}}},
{"data": {"name": "chanEdges"}, "mark": {"type": "rule", "color": "#a9a9a9", "strokeWidth": 1},
 "encoding": {"x": {"field": "d", "type": "temporal"}, "x2": {"field": "d2"}, "y": {"field": "p", "type": "quantitative"}, "y2": {"field": "p2"}}},
{"data": {"name": "ohlc"}, "mark": {"type": "rule", "strokeWidth": 1},
 "encoding": {"x": {"field": "d", "type": "temporal"}, "y": {"field": "l", "type": "quantitative"}, "y2": {"field": "h"},
  "color": {"condition": {"test": "datum.c >= datum.o", "value": "#a3a3a3"}, "value": "#2f8fe3"}}},
{"data": {"name": "ohlc"}, "mark": {"type": "bar", "size": 1.4},
 "encoding": {"x": {"field": "d", "type": "temporal"}, "y": {"field": "o", "type": "quantitative"}, "y2": {"field": "c"},
  "color": {"condition": {"test": "datum.c >= datum.o", "value": "#a3a3a3"}, "value": "#2f8fe3"}}},
{"data": {"name": "fib"}, "mark": {"type": "rule", "strokeWidth": 1.5},
 "encoding": {"x": {"field": "d", "type": "temporal"}, "x2": {"field": "d2"}, "y": {"field": "p", "type": "quantitative"},
  "color": {"field": "lvl", "type": "nominal", "legend": null, "scale": {"domain": ["100.0%","76.4%","61.8%","50.0%","38.2%","23.6%","0.0%"], "range": ["#8a1414","#8c8c8c","#2c8a2c","#2a7d8c","#2c8a2c","#8c8c8c","#8a1414"]}}}},
{"data": {"name": "sma"}, "mark": {"type": "line", "strokeWidth": 1.5},
 "encoding": {"x": {"field": "d", "type": "temporal"}, "y": {"field": "p", "type": "quantitative"},
  "color": {"field": "s", "type": "nominal", "legend": null,
  "scale": {"domain": ["Last Price","High on 02/25/21","Average","Low on 01/28/22","SMAVG (50)  on Close","SMAVG (100)  on Close","SMAVG (200)  on Close","0.7384","0.8007","0.7442","0.6968","0.7211","0.7215","0.7301"],
   "range": ["#ffffff","#9a9a9a","#9a9a9a","#9a9a9a","#dd3a9e","#3fae3f","#e3cb3a","transparent","transparent","transparent","transparent","transparent","transparent","transparent"]}}}},
{"data": {"name": "rchan"}, "mark": {"type": "area", "color": "#b00000", "opacity": 0.3},
 "encoding": {"x": {"field": "d", "type": "temporal"}, "y": {"field": "p", "type": "quantitative"}, "y2": {"field": "p2"}}},
{"data": {"name": "rchanEdges"}, "mark": {"type": "rule", "color": "#c21b1b", "strokeWidth": 1.2},
 "encoding": {"x": {"field": "d", "type": "temporal"}, "x2": {"field": "d2"}, "y": {"field": "p", "type": "quantitative"}, "y2": {"field": "p2"}}},
{"data": {"name": "fib"}, "mark": {"type": "text", "align": "right", "baseline": "bottom", "dy": -1, "fontSize": 7, "font": "Liberation Sans"},
 "encoding": {"x": {"field": "dl", "type": "temporal"}, "y": {"field": "p", "type": "quantitative"}, "text": {"field": "lab"},
  "color": {"field": "lvl", "type": "nominal", "legend": null, "scale": {"domain": ["100.0%","76.4%","61.8%","50.0%","38.2%","23.6%","0.0%"], "range": ["#c0231f","#b2b2b2","#3aaa3a","#46a6b6","#3aaa3a","#b2b2b2","#c0231f"]}}}},
{"data": {"name": "last"}, "mark": {"type": "point", "filled": true, "size": 55, "opacity": 1, "shape": "circle"},
 "encoding": {"x": {"field": "d", "type": "temporal"}, "y": {"field": "p", "type": "quantitative"},
  "color": {"field": "s", "type": "nominal",
  "scale": {"domain": ["Last Price","High on 02/25/21","Average","Low on 01/28/22","SMAVG (50)  on Close","SMAVG (100)  on Close","SMAVG (200)  on Close","0.7384","0.8007","0.7442","0.6968","0.7211","0.7215","0.7301"],
   "range": ["#ffffff","#9a9a9a","#9a9a9a","#9a9a9a","#dd3a9e","#3fae3f","#e3cb3a","transparent","transparent","transparent","transparent","transparent","transparent","transparent"]},
  "legend": {"orient": "none", "legendX": 3, "legendY": 222, "columns": 2, "gridAlign": "each", "title": null, "fillColor": "#1b1b1b", "padding": 3, "labelFontSize": 5.5, "labelColor": "#d2d2d2", "labelFont": "Liberation Sans", "symbolType": "square", "symbolSize": 16, "symbolStrokeWidth": 0, "rowPadding": 0, "columnPadding": 2, "labelOffset": 2}}}},
{"data": {"name": "years"}, "mark": {"type": "text", "fontSize": 6, "color": "#a8a8a8", "baseline": "middle"},
 "encoding": {"x": {"field": "d", "type": "temporal"}, "y": {"field": "p", "type": "quantitative"}, "text": {"field": "t"}}},
{"data": {"values": [{"d":"2021-09-09","d2":"2021-11-24","p":0.80791,"p2":0.80431},{"d":"2021-11-03","d2":"2021-11-21","p":0.80385,"p2":0.80025}]}, "mark": {"type": "rect", "color": "#1e1e1e"},
 "encoding": {"x": {"field": "d", "type": "temporal"}, "x2": {"field": "d2"}, "y": {"field": "p", "type": "quantitative"}, "y2": {"field": "p2"}}},
{"data": {"values": [{"d":"2021-10-15","p":0.80624,"t":"+ Track   ⁄ Annotate   ≡ News   ⌕ Zoom"},{"d":"2021-11-12","p":0.80205,"t":"⊗ Reset"}]}, "mark": {"type": "text", "fontSize": 6, "color": "#9c9c9c", "baseline": "middle", "font": "DejaVu Sans"},
 "encoding": {"x": {"field": "d", "type": "temporal"}, "y": {"field": "p", "type": "quantitative"}, "text": {"field": "t"}}},
{"data": {"values": [{"d":"2021-02-05","p":0.66641,"t":"www.articles.ftdsystem.com"}]}, "mark": {"type": "text", "align": "left", "baseline": "middle", "fontSize": 8.8, "color": "#d3dbe2", "font": "Open Sans"},
 "encoding": {"x": {"field": "d", "type": "temporal"}, "y": {"field": "p", "type": "quantitative"}, "text": {"field": "t"}}},
{"data": {"values": [{"d":"2021-10-11","p":0.66687,"t":"AUDUSD Daily Chart"}]}, "mark": {"type": "text", "align": "center", "baseline": "middle", "fontSize": 13.5, "color": "#e6edf2", "font": "Open Sans"},
 "encoding": {"x": {"field": "d", "type": "temporal"}, "y": {"field": "p", "type": "quantitative"}, "text": {"field": "t"}}},
{"data": {"values": [{"d":"2022-05-29","p":0.66912,"t":"FTD"}]}, "mark": {"type": "text", "align": "center", "baseline": "middle", "fontSize": 24, "fontStyle": "italic", "fontWeight": "bold", "color": "#d9dee3", "font": "Liberation Sans"},
 "encoding": {"x": {"field": "d", "type": "temporal"}, "y": {"field": "p", "type": "quantitative"}, "text": {"field": "t"}}},
{"data": {"values": [{"d":"2022-05-29","p":0.66146,"t":"FINANCIAL TRADING DIMENSIONS"}]}, "mark": {"type": "text", "align": "center", "baseline": "middle", "fontSize": 3.6, "color": "#c5ccd3", "font": "Liberation Sans"},
 "encoding": {"x": {"field": "d", "type": "temporal"}, "y": {"field": "p", "type": "quantitative"}, "text": {"field": "t"}}}
],
"resolve": {"scale": {"color": "independent"}, "legend": {"color": "independent"}}
}
